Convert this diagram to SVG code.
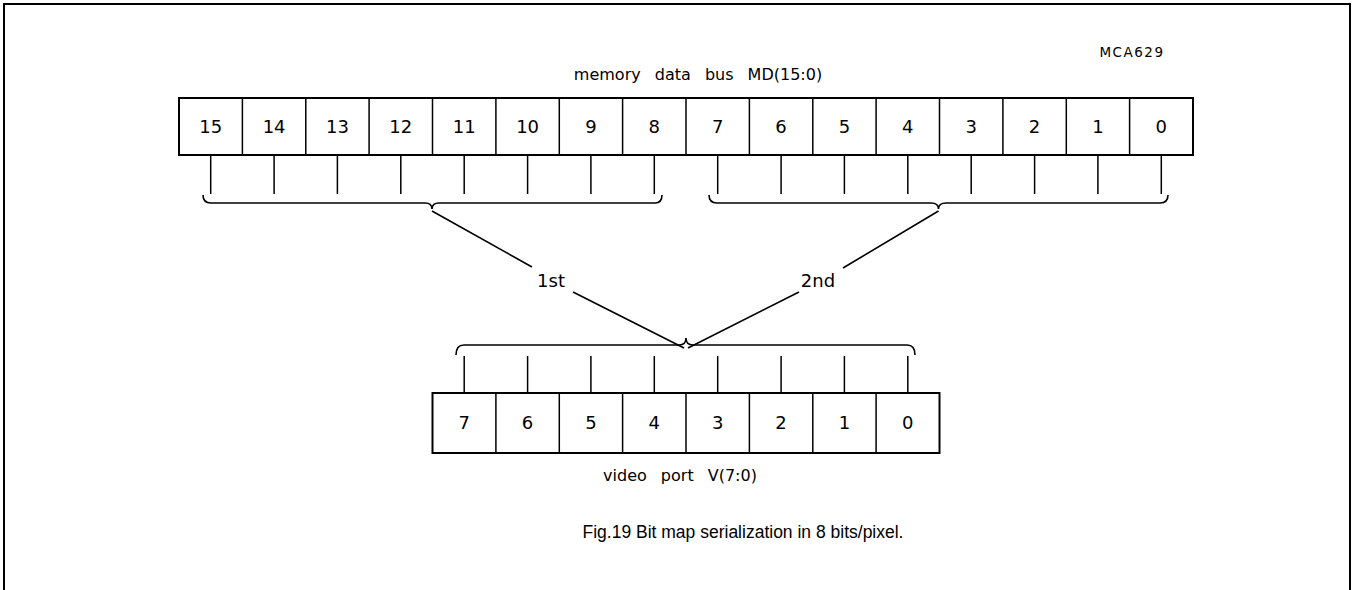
<svg xmlns="http://www.w3.org/2000/svg" width="1356" height="590" viewBox="0 0 1356 590">
<style>
.box{fill:#fff;stroke:#000;stroke-width:2}
.tk{stroke:#000;stroke-width:1.5;fill:none}
.br{stroke:#000;stroke-width:1.6;fill:none}
.d{font-family:"DejaVu Sans",sans-serif;font-size:18px;text-anchor:middle;fill:#000}
.lb{font-family:"DejaVu Sans",sans-serif;font-size:16px;text-anchor:middle;fill:#000;word-spacing:9px}
.cap{font-family:"Liberation Sans",Arial,sans-serif;font-size:17.5px;text-anchor:middle;fill:#000}
</style>
<rect width="1356" height="590" fill="#fff"/>
<rect x="4" y="4" width="1346" height="600" fill="none" stroke="#000" stroke-width="2"/>
<text x="1132" y="57" class="lb" style="font-size:13.5px;letter-spacing:1.5px">MCA629</text>

<g id="md-bus">
<text x="698" y="80" class="lb">memory data bus MD(15:0)</text>
<rect x="179" y="98" width="1014" height="57" class="box"/>
<path class="tk" d="M242.4,98V155M305.8,98V155M369.1,98V155M432.5,98V155M495.9,98V155M559.3,98V155M622.6,98V155M686,98V155M749.4,98V155M812.8,98V155M876.1,98V155M939.5,98V155M1002.9,98V155M1066.3,98V155M1129.6,98V155" stroke-width="1.8"/>
<g class="d">
<text x="210.7" y="133">15</text><text x="274.1" y="133">14</text><text x="337.4" y="133">13</text><text x="400.8" y="133">12</text>
<text x="464.2" y="133">11</text><text x="527.6" y="133">10</text><text x="590.9" y="133">9</text><text x="654.3" y="133">8</text>
<text x="717.7" y="133">7</text><text x="781.1" y="133">6</text><text x="844.4" y="133">5</text><text x="907.8" y="133">4</text>
<text x="971.2" y="133">3</text><text x="1034.6" y="133">2</text><text x="1097.9" y="133">1</text><text x="1161.3" y="133">0</text>
</g>
</g>

<g id="video-port">
<rect x="432.5" y="393" width="507" height="60" class="box"/>
<path class="tk" d="M495.9,393V453M559.3,393V453M622.6,393V453M686,393V453M749.4,393V453M812.8,393V453M876.1,393V453" stroke-width="1.8"/>
<g class="d">
<text x="464.2" y="429">7</text><text x="527.6" y="429">6</text><text x="590.9" y="429">5</text><text x="654.3" y="429">4</text>
<text x="717.7" y="429">3</text><text x="781.1" y="429">2</text><text x="844.4" y="429">1</text><text x="907.8" y="429">0</text>
</g>
<text x="680" y="481" class="lb">video port V(7:0)</text>
</g>

<g id="connectors">
<path class="tk" d="M210.7,155V194M274.1,155V194M337.4,155V194M400.8,155V194M464.2,155V194M527.6,155V194M590.9,155V194M654.3,155V194M717.7,155V194M781.1,155V194M844.4,155V194M907.8,155V194M971.2,155V194M1034.6,155V194M1097.9,155V194M1161.3,155V194"/>
<path class="br" d="M203,195Q203,203 211,203L425,203Q432,203 432,209Q432,203 439,203L655,203Q662,203 662,195"/>
<path class="br" d="M709,195Q709,203 717,203L931,203Q938.5,203 938.5,209Q938.5,203 946,203L1160,203Q1168,203 1168,195"/>
<path class="tk" d="M464.2,356V393M527.6,356V393M590.9,356V393M654.3,356V393M717.7,356V393M781.1,356V393M844.4,356V393M907.8,356V393"/>
<path class="br" d="M456,355Q456,345 464,345L679,345Q686,345 686,338Q686,345 693,345L907,345Q915,345 915,355"/>
<path class="br" d="M432,211L532,267M573,292L684,348M938.5,211L843,268M799,292L688,348"/>
<text x="551" y="287" class="lb" style="font-size:18px">1st</text>
<text x="818" y="287" class="lb" style="font-size:18px">2nd</text>
</g>

<text x="743" y="538" class="cap">Fig.19 Bit map serialization in 8 bits/pixel.</text>
</svg>
